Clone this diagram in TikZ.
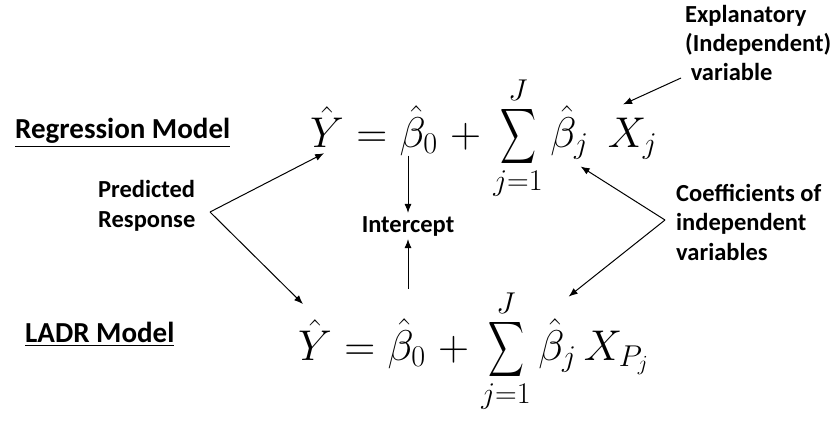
\RequirePackage{fix-cm}
\documentclass[tikz,border=0pt]{standalone}
\usepackage{exscale}
\usepackage[no-math]{fontspec}
\setmainfont{Carlito}
\usepackage{graphicx}
\usetikzlibrary{arrows.meta,calc}
\newcommand\bigsum{\mathop{\vcenter{\hbox{\scalebox{1.0}[1.55]{$\displaystyle\sum$}}}}\limits}
\begin{document}
\begin{tikzpicture}[x=1pt,y=-1pt,
  lbl/.style={font=\bfseries\fontsize{24.5}{29.5}\selectfont, align=left, inner sep=0pt, anchor=base west},
  ttl/.style={font=\bfseries\fontsize{29}{32}\selectfont, inner sep=0pt, anchor=base west},
  eq/.style={font=\fontsize{43}{48}\selectfont, inner sep=0pt, anchor=base west},
  arr/.style={-{Latex[length=9pt,width=7pt]}, line width=1pt}]
\useasboundingbox[fill=white] (0,0) rectangle (837,431);

% titles
\node[ttl] (reg) at (15,138) {\underline{Regression Model}};
\node[ttl] (ladr) at (25,342) {\underline{LADR Model}};

% labels
\node[lbl] (pr1) at (98,197) {Predicted};
\node[lbl] (pr2) at (98,227) {Response};
\node[lbl, anchor=base] (int) at (408,232) {Intercept};
\node[lbl] (ex1) at (685,22) {Explanatory};
\node[lbl] (ex2) at (685,51) {(Independent)};
\node[lbl] (ex3) at (685,80) {\ variable};
\node[lbl] (co1) at (676,201) {Coefficients of};
\node[lbl] (co2) at (676,230) {independent};
\node[lbl] (co3) at (676,260) {variables};

% equation 1
\node[eq] (Y1) at (310,147) {$\hat{Y}$};
\node[eq] (e1) at (Y1.base east) {$\;=\;$};
\node[eq] (b01) at (e1.base east) {$\hat{\beta}_0$};
\node[eq] (p1) at (b01.base east) {$\;+\;$};
\node[eq] (s1) at (p1.base east) {$\bigsum_{j=1}^{J}$};
\node[eq] (bj1) at (s1.base east) {$\,\hat{\beta}_j$};
\node[eq] (X1) at (bj1.base east) {$\;\,X_j$};

% equation 2
\node[eq] (Y2) at (298,360) {$\hat{Y}$};
\node[eq] (e2) at (Y2.base east) {$\;=\;$};
\node[eq] (b02) at (e2.base east) {$\hat{\beta}_0$};
\node[eq] (p2) at (b02.base east) {$\;+\;$};
\node[eq] (s2) at (p2.base east) {$\bigsum_{j=1}^{J}$};
\node[eq] (bj2) at (s2.base east) {$\,\hat{\beta}_j$};
\node[eq] (X2) at (bj2.base east) {$\,X_{P_j}$};

% connectors
\coordinate (prv) at (210,212);
\draw[arr] (prv) -- ($(Y1.south)+(-3,6)$);
\draw[arr] (prv) -- ($(Y2.north west)+(5,-15)$);
\draw[arr] (b01.south -| int.north) -- ($(int.north)+(0,-3)$);
\draw[arr] ($(b02.north -| int.south)+(0,-30)$) -- ($(int.south)+(0,3)$);
\coordinate (exv) at (681,78);
\draw[arr] (exv) -- ($(X1.north)+(0,-13)$);
\coordinate (cv) at (665,220);
\draw[arr] (cv) -- ($(bj1.south east)+(-8,7)$);
\draw[arr] (cv) -- ($(bj2.north east)+(-8,-22)$);
\end{tikzpicture}
\end{document}
